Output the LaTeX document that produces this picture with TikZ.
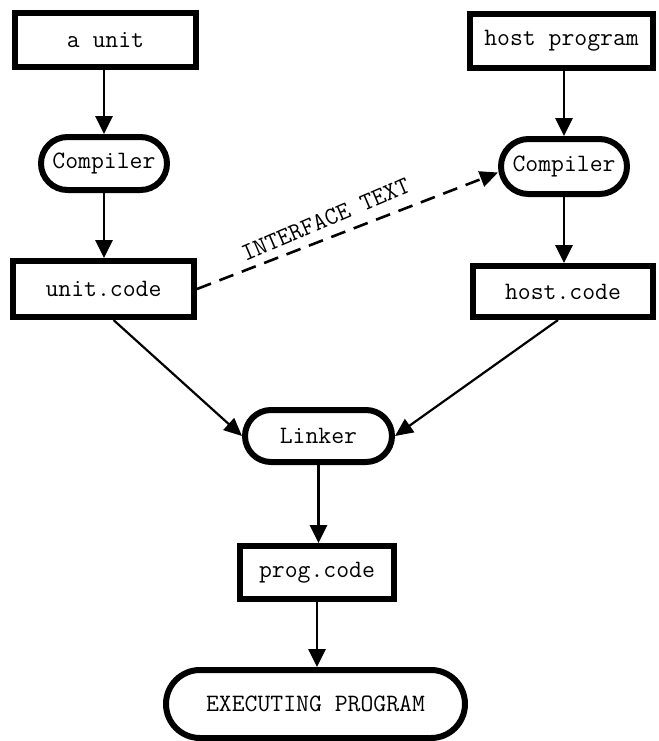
\documentclass[tikz,border=0pt]{standalone}
\usepackage{fontspec}
\usetikzlibrary{shapes.misc,arrows.meta}
\begin{document}
\begin{tikzpicture}[x=0.5pt,y=-0.5pt,
  txt/.style={font=\ttfamily\fontsize{12.5}{14}\selectfont\addfontfeatures{FakeBold=0.4}},
  box/.style={txt,draw,line width=3pt,inner sep=0pt,rectangle},
  term/.style={txt,draw,line width=3pt,inner sep=0pt,rounded rectangle},
  arr/.style={line width=1.4pt,-{Triangle[length=9pt,width=8.5pt]}},
  darr/.style={line width=1.1pt,-{Triangle[length=9pt,width=8pt]}},
  dasharr/.style={line width=1.3pt,dash pattern=on 7.5pt off 4.5pt,-{Triangle[length=9pt,width=8pt]}}]
\useasboundingbox (0,0) rectangle (659,741);
% left column
\node[box,minimum width=90.5pt,minimum height=27pt] (AU) at (105.5,40) {a unit};
\node[term,minimum width=63pt,minimum height=26.5pt] (CL) at (104,163.5) {Compiler};
\node[box,minimum width=90.5pt,minimum height=28pt] (UC) at (103.5,289) {unit.code};
% right column
\node[box,minimum width=91.5pt,minimum height=27pt] (HP) at (561.5,41) {host program};
\node[term,minimum width=63pt,minimum height=27.5pt] (CR) at (564,166.5) {Compiler};
\node[box,minimum width=90pt,minimum height=25.5pt] (HC) at (563,291.5) {host.code};
% bottom
\node[term,minimum width=73.5pt,minimum height=26pt] (LK) at (318.5,436) {Linker};
\node[box,minimum width=77pt,minimum height=26.5pt] (PC) at (317,572.5) {prog.code};
\node[term,minimum width=149.5pt,minimum height=34pt] (EX) at (315.5,704) {EXECUTING PROGRAM};
% connectors
\draw[arr] (CL.north |- AU.south) -- (CL.north);
\draw[arr] (CL.south) -- (CL.south |- UC.north);
\draw[arr] (CR.north |- HP.south) -- (CR.north);
\draw[arr] (CR.south) -- (CR.south |- HC.north);
\draw[dasharr] (UC.east) -- node[txt,pos=0.45,sloped,above=4.6pt,inner sep=0pt,rotate=2] {INTERFACE TEXT} ([yshift=-3pt]CR.west);
\draw[darr] ([xshift=5pt]UC.south) -- (LK.west);
\draw[darr] ([xshift=-2.5pt]HC.south) -- (LK.east);
\draw[arr] (LK.south) -- (LK.south |- PC.north);
\draw[arr] (PC.south) -- (PC.south |- EX.north);
\end{tikzpicture}
\end{document}
